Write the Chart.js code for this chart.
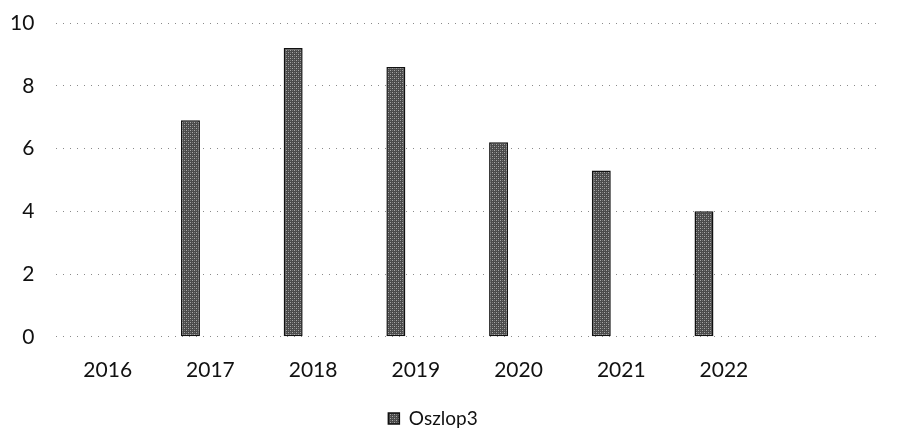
<!DOCTYPE html>
<html>
<head>
<meta charset="utf-8">
<script src="https://cdn.jsdelivr.net/npm/chart.js@4/dist/chart.umd.min.js"></script>
<style>
  html, body { margin: 0; padding: 0; background: #ffffff; }
  #wrap { position: relative; width: 897px; height: 430px; }
</style>
</head>
<body>
<div id="wrap"><canvas id="chart" width="897" height="430"></canvas></div>
<script>
// Years on the horizontal axis (last slot left blank)
const categories = ['2016', '2017', '2018', '2019', '2020', '2021', '2022', ''];
// Oszlop3 values per year
const oszlop3 = [null, 6.9, 9.2, 8.6, 6.2, 5.3, 4.0, null];
// Empty companion series that share each year's group
const emptySeries = [null, null, null, null, null, null, null, null];
// Value axis ticks
const yTicks = [0, 2, 4, 6, 8, 10];

// Grey halftone-like fill for the bars
function halftone() {
  const c = document.createElement('canvas');
  c.width = 4; c.height = 4;
  const g = c.getContext('2d');
  g.fillStyle = '#4a4a4a';
  g.fillRect(0, 0, 4, 4);
  g.fillStyle = '#a8a8a8';
  g.fillRect(0, 0, 1, 1);
  g.fillRect(2, 2, 1, 1);
  g.fillStyle = '#777777';
  g.fillRect(2, 0, 1, 1);
  g.fillRect(0, 2, 1, 1);
  return g.createPattern(c, 'repeat');
}
const fill = halftone();

const font = "Lato, 'Open Sans', sans-serif";

new Chart(document.getElementById('chart'), {
  type: 'bar',
  data: {
    labels: categories,
    datasets: [
      { label: 'Oszlop3', data: oszlop3, backgroundColor: fill, borderColor: '#111111', borderWidth: 1.5, borderSkipped: false },
      { label: 'Oszlop1', data: emptySeries },
      { label: 'Oszlop2', data: emptySeries }
    ]
  },
  options: {
    responsive: false,
    animation: false,
    layout: { padding: { left: -12, right: 19, top: 2, bottom: -8 } },
    datasets: { bar: { categoryPercentage: 0.583, barPercentage: 0.95 } },
    scales: {
      x: {
        grid: { display: false },
        border: { display: false },
        ticks: { color: '#111', font: { family: font, size: 21 }, padding: 13, maxRotation: 0, autoSkip: false },
        afterFit: (axis) => { axis.height += 8; }
      },
      y: {
        min: 0, max: 10,
        afterBuildTicks: (axis) => { axis.ticks = yTicks.map(v => ({ value: v })); },
        afterFit: (axis) => { axis.paddingTop = 23; axis.paddingBottom = 0; },
        border: { display: false, dash: [1, 6] },
        grid: { color: '#8a8a8a', lineWidth: 1, drawTicks: false },
        ticks: { color: '#111', font: { family: font, size: 21 }, padding: 22 }
      }
    },
    plugins: {
      legend: {
        position: 'bottom',
        labels: {
          filter: (item) => item.text === 'Oszlop3',
          color: '#111',
          font: { family: font, size: 19 },
          boxWidth: 11, boxHeight: 11, padding: 5
        }
      },
      tooltip: { enabled: false }
    }
  }
});
</script>
</body>
</html>
